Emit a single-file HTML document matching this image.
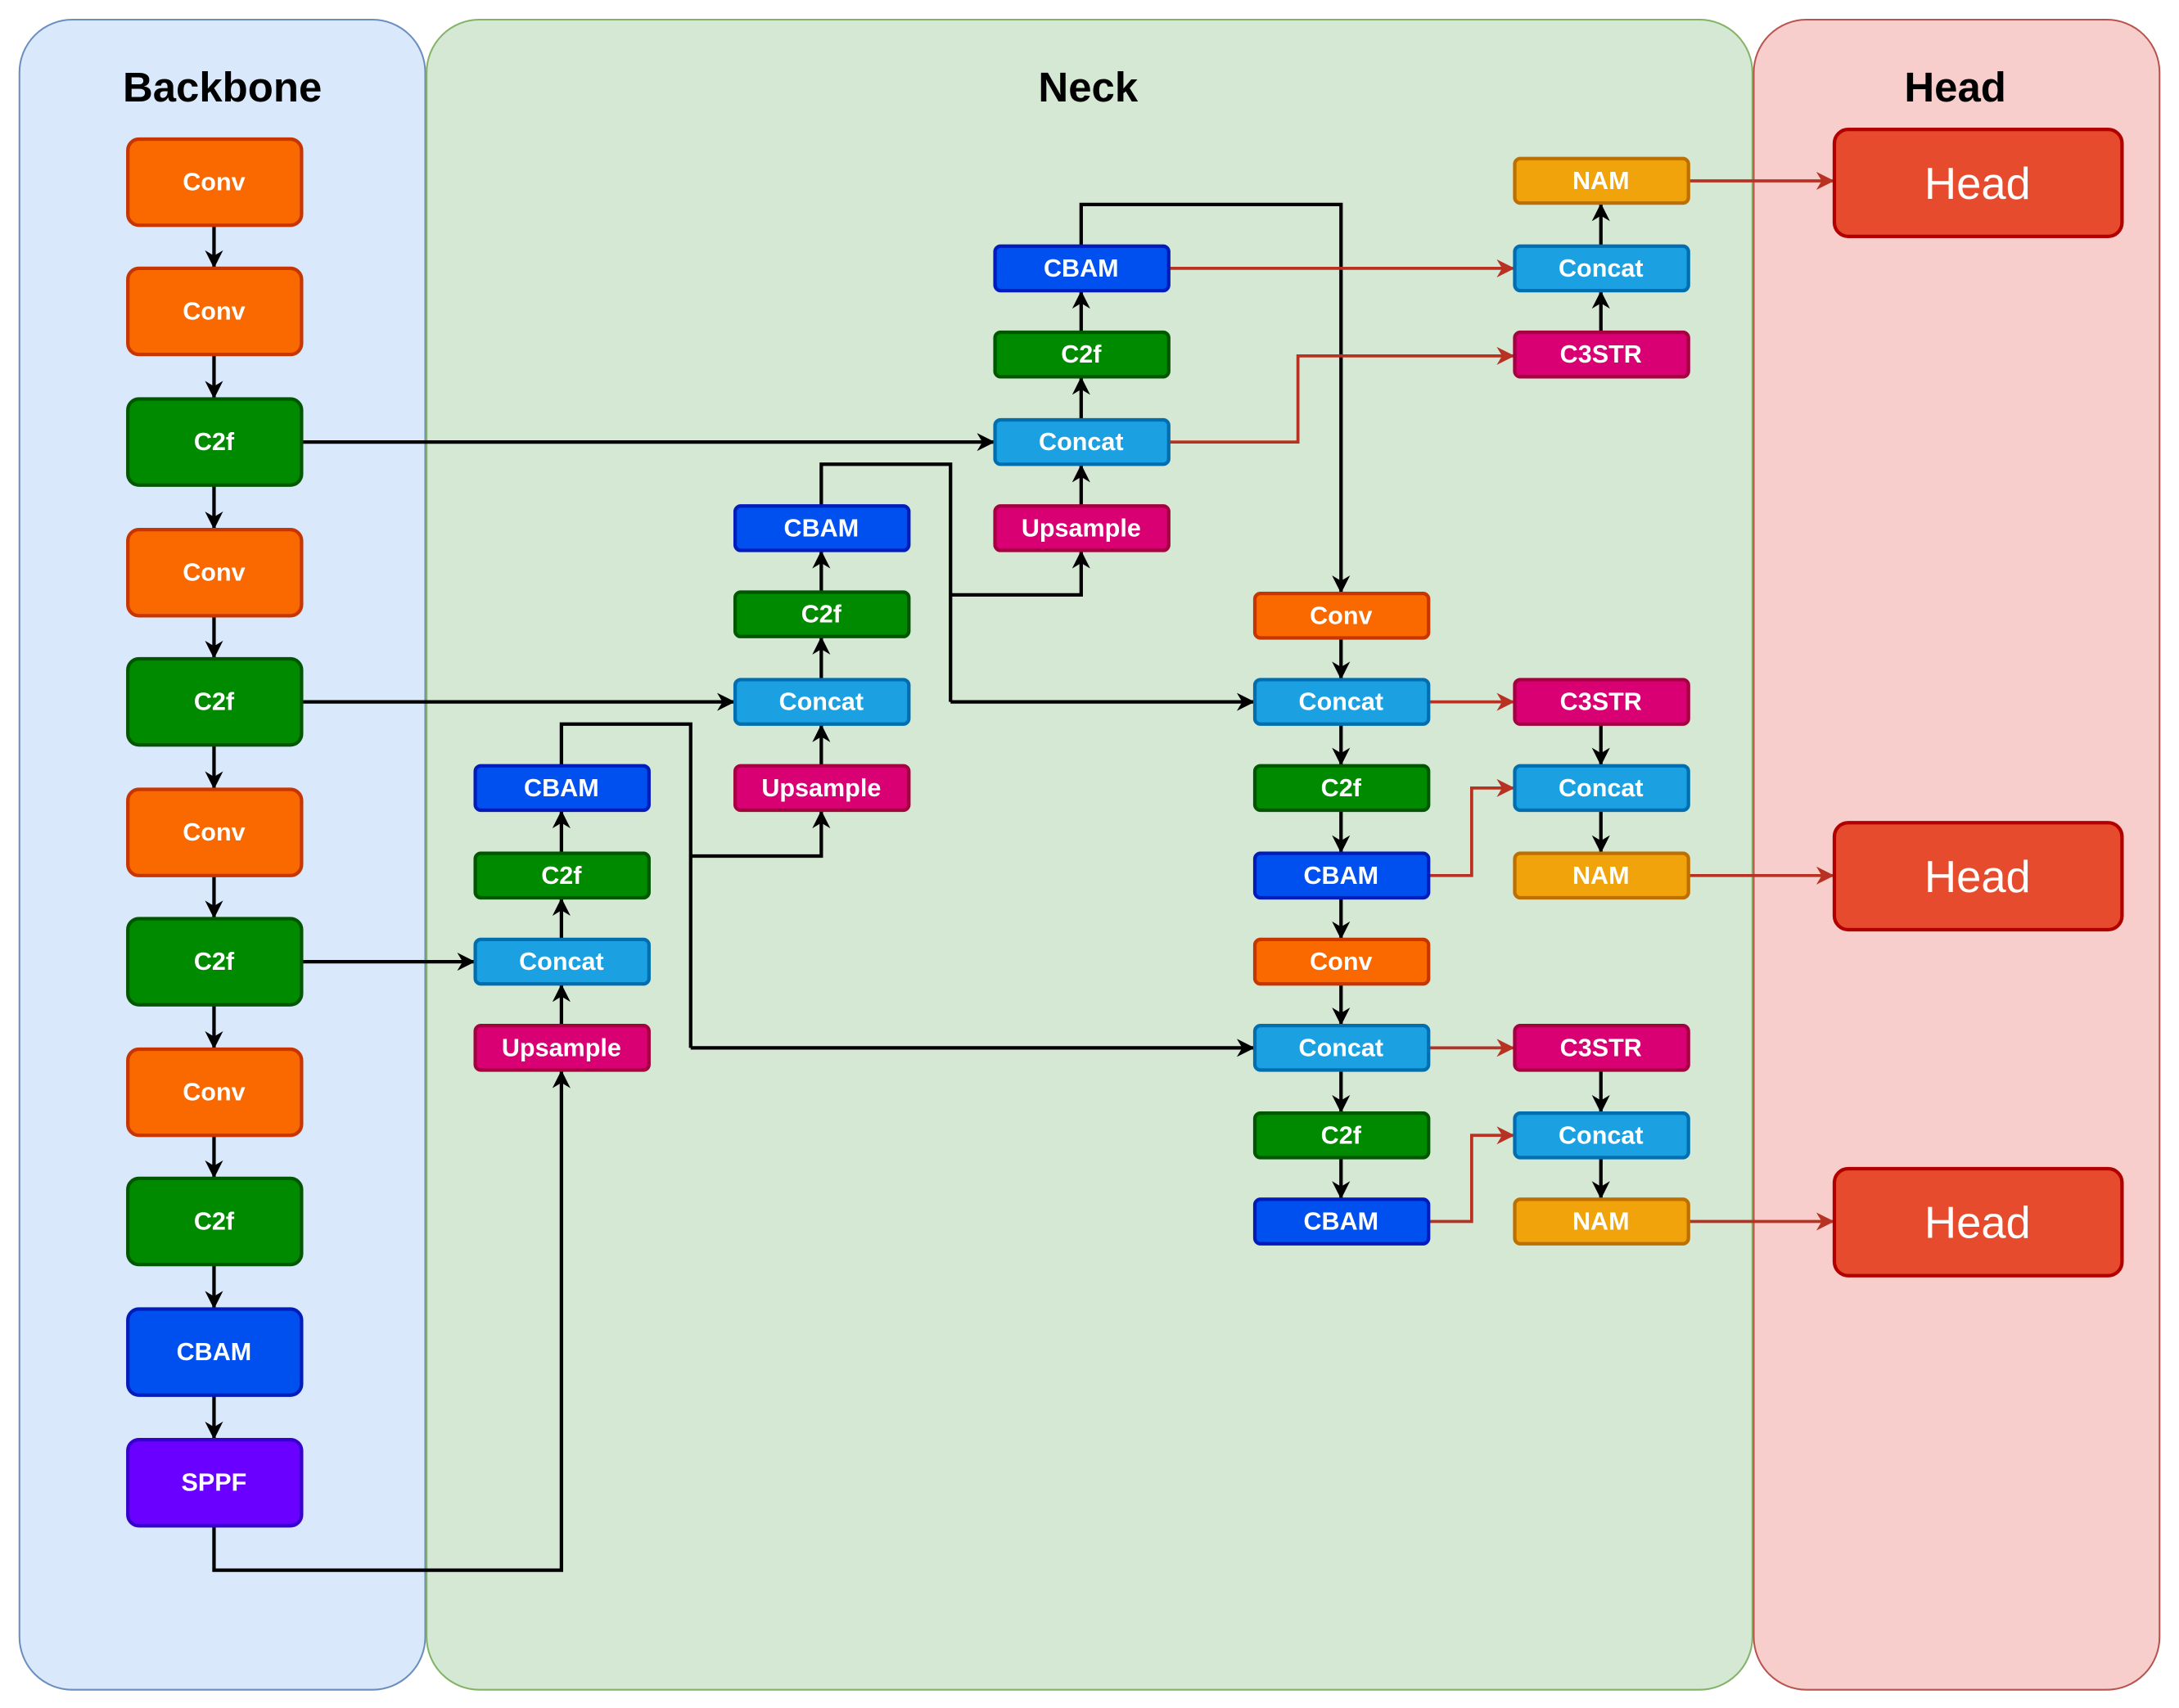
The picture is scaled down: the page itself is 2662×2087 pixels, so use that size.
<!DOCTYPE html>
<html><head><meta charset="utf-8"><style>html,body{margin:0;padding:0;background:#fff}svg{display:block}</style></head><body>
<svg width="2662" height="2087" viewBox="0 0 1568 1229" xmlns="http://www.w3.org/2000/svg" font-family="Liberation Sans, Arial, sans-serif">
<defs>
<marker id="ab" viewBox="0 0 10 10" refX="10" refY="5" markerWidth="15" markerHeight="13" orient="auto" markerUnits="userSpaceOnUse"><path d="M0,0 L10,5 L0,10 L3,5 Z" fill="#000"/></marker>
<marker id="ar" viewBox="0 0 10 10" refX="10" refY="5" markerWidth="15" markerHeight="13" orient="auto" markerUnits="userSpaceOnUse"><path d="M0,0 L10,5 L0,10 L3,5 Z" fill="#b83224"/></marker>
</defs>
<style>
.k{fill:none;stroke:#000;stroke-width:2.5;marker-end:url(#ab)}
.kn{fill:none;stroke:#000;stroke-width:2.5}
.r{fill:none;stroke:#b83224;stroke-width:2.2;marker-end:url(#ar)}
.t{fill:#fff;font-weight:bold;font-size:18px;text-anchor:middle;dominant-baseline:central}
</style>
<rect width="1568" height="1229" fill="#fff"/>
<rect x="14" y="14" width="292" height="1202" rx="38" fill="#dae8fc" stroke="#6c8ebf" stroke-width="1.2"/>
<rect x="307" y="14" width="954" height="1202" rx="38" fill="#d5e8d4" stroke="#82b366" stroke-width="1.2"/>
<rect x="1262" y="14" width="292" height="1202" rx="38" fill="#f8cecc" stroke="#b85450" stroke-width="1.2"/>
<g font-weight="bold" font-size="30" text-anchor="middle">
<text x="160" y="73">Backbone</text><text x="783" y="73">Neck</text><text x="1407" y="73">Head</text></g>

<g>
<path class="k" d="M154 162V193"/><path class="k" d="M154 255V287"/><path class="k" d="M154 349V381"/>
<path class="k" d="M154 443V474"/><path class="k" d="M154 536V568"/><path class="k" d="M154 630V661"/>
<path class="k" d="M154 723V755"/><path class="k" d="M154 817V848"/><path class="k" d="M154 910V942"/>
<path class="k" d="M154 1004V1036"/>
<path class="k" d="M217 318H716"/><path class="k" d="M217 505H529"/><path class="k" d="M217 692H342"/>
<path class="k" d="M154 1098V1130H404V770"/>
<path class="k" d="M404 738V708"/><path class="k" d="M404 676V646"/><path class="k" d="M404 614V583"/>
<path class="kn" d="M404 551V521H497V754"/><path class="k" d="M497 616H591V583"/><path class="k" d="M497 754H903"/>
<path class="k" d="M591 551V521"/><path class="k" d="M591 489V458"/><path class="k" d="M591 426V396"/>
<path class="kn" d="M591 364V334H684V505"/><path class="k" d="M684 428H778V396"/><path class="k" d="M684 505H903"/>
<path class="k" d="M778 364V334"/><path class="k" d="M778 302V271"/><path class="k" d="M778 239V209"/>
<path class="k" d="M778 177V147H965V427"/>
<path class="k" d="M965 459V489"/><path class="k" d="M965 521V551"/><path class="k" d="M965 583V614"/><path class="k" d="M965 646V676"/><path class="k" d="M965 708V738"/><path class="k" d="M965 770V801"/><path class="k" d="M965 833V863"/>
<path class="k" d="M1152 239V209"/><path class="k" d="M1152 177V146"/>
<path class="k" d="M1152 521V551"/><path class="k" d="M1152 583V614"/>
<path class="k" d="M1152 770V801"/><path class="k" d="M1152 833V863"/>
</g>
<g>
<path class="r" d="M841 193H1090"/><path class="r" d="M841 318H934V256H1090"/>
<path class="r" d="M1215 130H1320"/>
<path class="r" d="M1028 505H1090"/><path class="r" d="M1028 630H1059V567H1090"/><path class="r" d="M1215 630H1320"/>
<path class="r" d="M1028 754H1090"/><path class="r" d="M1028 879H1059V817H1090"/><path class="r" d="M1215 879H1320"/>
</g>

<g stroke-width="2.5">
<rect x="92" y="100" width="125" height="62" rx="8" fill="#fa6800" stroke="#c73500"/>
<rect x="92" y="193" width="125" height="62" rx="8" fill="#fa6800" stroke="#c73500"/>
<rect x="92" y="287" width="125" height="62" rx="8" fill="#008a00" stroke="#005700"/>
<rect x="92" y="381" width="125" height="62" rx="8" fill="#fa6800" stroke="#c73500"/>
<rect x="92" y="474" width="125" height="62" rx="8" fill="#008a00" stroke="#005700"/>
<rect x="92" y="568" width="125" height="62" rx="8" fill="#fa6800" stroke="#c73500"/>
<rect x="92" y="661" width="125" height="62" rx="8" fill="#008a00" stroke="#005700"/>
<rect x="92" y="755" width="125" height="62" rx="8" fill="#fa6800" stroke="#c73500"/>
<rect x="92" y="848" width="125" height="62" rx="8" fill="#008a00" stroke="#005700"/>
<rect x="92" y="942" width="125" height="62" rx="8" fill="#0050ef" stroke="#001dbc"/>
<rect x="92" y="1036" width="125" height="62" rx="8" fill="#6a00ff" stroke="#3700cc"/>
</g>
<g>
<text class="t" x="154" y="131">Conv</text><text class="t" x="154" y="224">Conv</text><text class="t" x="154" y="318">C2f</text>
<text class="t" x="154" y="412">Conv</text><text class="t" x="154" y="505">C2f</text><text class="t" x="154" y="599">Conv</text>
<text class="t" x="154" y="692">C2f</text><text class="t" x="154" y="786">Conv</text><text class="t" x="154" y="879">C2f</text>
<text class="t" x="154" y="973">CBAM</text><text class="t" x="154" y="1067">SPPF</text>
</g>

<g stroke-width="2.5">
<rect x="342" y="551" width="125" height="32" rx="4" fill="#0050ef" stroke="#001dbc"/>
<rect x="342" y="614" width="125" height="32" rx="4" fill="#008a00" stroke="#005700"/>
<rect x="342" y="676" width="125" height="32" rx="4" fill="#1ba1e2" stroke="#006eaf"/>
<rect x="342" y="738" width="125" height="32" rx="4" fill="#d80073" stroke="#a50040"/>
<rect x="529" y="364" width="125" height="32" rx="4" fill="#0050ef" stroke="#001dbc"/>
<rect x="529" y="426" width="125" height="32" rx="4" fill="#008a00" stroke="#005700"/>
<rect x="529" y="489" width="125" height="32" rx="4" fill="#1ba1e2" stroke="#006eaf"/>
<rect x="529" y="551" width="125" height="32" rx="4" fill="#d80073" stroke="#a50040"/>
<rect x="716" y="177" width="125" height="32" rx="4" fill="#0050ef" stroke="#001dbc"/>
<rect x="716" y="239" width="125" height="32" rx="4" fill="#008a00" stroke="#005700"/>
<rect x="716" y="302" width="125" height="32" rx="4" fill="#1ba1e2" stroke="#006eaf"/>
<rect x="716" y="364" width="125" height="32" rx="4" fill="#d80073" stroke="#a50040"/>
<rect x="903" y="427" width="125" height="32" rx="4" fill="#fa6800" stroke="#c73500"/>
<rect x="903" y="489" width="125" height="32" rx="4" fill="#1ba1e2" stroke="#006eaf"/>
<rect x="903" y="551" width="125" height="32" rx="4" fill="#008a00" stroke="#005700"/>
<rect x="903" y="614" width="125" height="32" rx="4" fill="#0050ef" stroke="#001dbc"/>
<rect x="903" y="676" width="125" height="32" rx="4" fill="#fa6800" stroke="#c73500"/>
<rect x="903" y="738" width="125" height="32" rx="4" fill="#1ba1e2" stroke="#006eaf"/>
<rect x="903" y="801" width="125" height="32" rx="4" fill="#008a00" stroke="#005700"/>
<rect x="903" y="863" width="125" height="32" rx="4" fill="#0050ef" stroke="#001dbc"/>
<rect x="1090" y="114" width="125" height="32" rx="4" fill="#f0a30a" stroke="#bd7000"/>
<rect x="1090" y="177" width="125" height="32" rx="4" fill="#1ba1e2" stroke="#006eaf"/>
<rect x="1090" y="239" width="125" height="32" rx="4" fill="#d80073" stroke="#a50040"/>
<rect x="1090" y="489" width="125" height="32" rx="4" fill="#d80073" stroke="#a50040"/>
<rect x="1090" y="551" width="125" height="32" rx="4" fill="#1ba1e2" stroke="#006eaf"/>
<rect x="1090" y="614" width="125" height="32" rx="4" fill="#f0a30a" stroke="#bd7000"/>
<rect x="1090" y="738" width="125" height="32" rx="4" fill="#d80073" stroke="#a50040"/>
<rect x="1090" y="801" width="125" height="32" rx="4" fill="#1ba1e2" stroke="#006eaf"/>
<rect x="1090" y="863" width="125" height="32" rx="4" fill="#f0a30a" stroke="#bd7000"/>
<rect x="1320" y="93" width="207" height="77" rx="10" fill="#e54b2c" stroke="#b20000"/>
<rect x="1320" y="592" width="207" height="77" rx="10" fill="#e54b2c" stroke="#b20000"/>
<rect x="1320" y="841" width="207" height="77" rx="10" fill="#e54b2c" stroke="#b20000"/>
</g>
<g>
<text class="t" x="404" y="567">CBAM</text><text class="t" x="404" y="630">C2f</text><text class="t" x="404" y="692">Concat</text><text class="t" x="404" y="754">Upsample</text>
<text class="t" x="591" y="380">CBAM</text><text class="t" x="591" y="442">C2f</text><text class="t" x="591" y="505">Concat</text><text class="t" x="591" y="567">Upsample</text>
<text class="t" x="778" y="193">CBAM</text><text class="t" x="778" y="255">C2f</text><text class="t" x="778" y="318">Concat</text><text class="t" x="778" y="380">Upsample</text>
<text class="t" x="965" y="443">Conv</text><text class="t" x="965" y="505">Concat</text><text class="t" x="965" y="567">C2f</text><text class="t" x="965" y="630">CBAM</text>
<text class="t" x="965" y="692">Conv</text><text class="t" x="965" y="754">Concat</text><text class="t" x="965" y="817">C2f</text><text class="t" x="965" y="879">CBAM</text>
<text class="t" x="1152" y="130">NAM</text><text class="t" x="1152" y="193">Concat</text><text class="t" x="1152" y="255">C3STR</text>
<text class="t" x="1152" y="505">C3STR</text><text class="t" x="1152" y="567">Concat</text><text class="t" x="1152" y="630">NAM</text>
<text class="t" x="1152" y="754">C3STR</text><text class="t" x="1152" y="817">Concat</text><text class="t" x="1152" y="879">NAM</text>
</g>
<g fill="#fff" font-size="32" text-anchor="middle" dominant-baseline="central">
<text x="1423" y="132">Head</text><text x="1423" y="631">Head</text><text x="1423" y="880">Head</text>
</g>
</svg>
</body></html>
